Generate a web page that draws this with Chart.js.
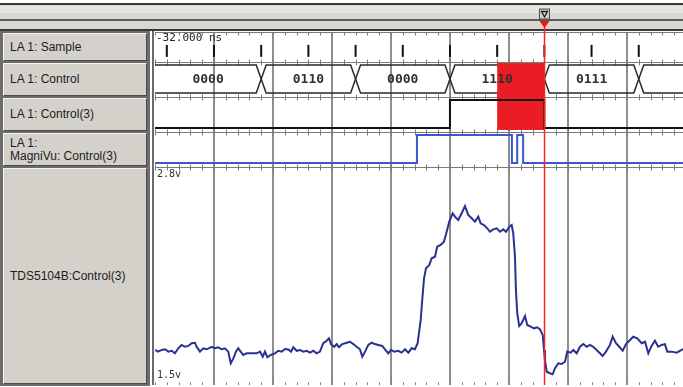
<!DOCTYPE html>
<html>
<head>
<meta charset="utf-8">
<script src="https://cdn.jsdelivr.net/npm/chart.js@4.4.1/dist/chart.umd.min.js"></script>
<style>
  html, body { margin: 0; padding: 0; background: #fff; }
  #wrap { position: relative; width: 683px; height: 387px; overflow: hidden; }
  #chart { position: absolute; left: 0; top: 0; }
  #panel { position: absolute; left: 0; top: 31px; width: 150px; height: 355px; background: #6c6c6c; }
  .cell {
    position: absolute; left: 3px; width: 144px; box-sizing: border-box;
    background: #d4d1cb; border: 1px solid; border-color: #f4f4f4 #4a4a4a #4a4a4a #f4f4f4;
    font: 12px "Liberation Sans", Arial, sans-serif; color: #1c1c1c;
    display: flex; align-items: center; padding-left: 6px; line-height: 13px; white-space: pre-line;
  }
</style>
</head>
<body>
<div id="wrap">
  <canvas id="chart" width="683" height="387"></canvas>
  <div id="panel"></div>
</div>
<script>
// ----------- data ------------
const trackNames = ["LA 1: Sample", "LA 1: Control", "LA 1: Control(3)", "LA 1:\nMagniVu: Control(3)", "TDS5104B:Control(3)"];
const timeMin = -32, timeMax = 12.75;              // ns
const gridTimes = [-27, -22, -17, -12, -7, -2, 3, 8];
const sampleTimes = [-31, -27, -23, -19, -15, -11, -7, -3, 1, 5, 9];
const busEdges = [-23, -15, -7, 1, 9];
const busValues = ["0000", "0110", "0000", "1110", "0111"];
const bitTimes = [-32, -7, 1];
const bitLevels = [0, 1, 0];
const magniTimes = [-32, -9.8, -1.75, -1.3, -0.8];
const magniLevels = [0, 1, 0, 1, 0];
const markStart = -3, markEnd = 1;                 // highlighted sample
const cursorTime = 1;
const voltMin = 1.5, voltMax = 2.8;

const scopeTimes = [
  -32.00, -31.75, -31.43, -31.15, -30.87, -30.58, -30.31, -30.03, -29.74, -29.46,
  -29.18, -28.89, -28.61, -28.47, -28.19, -27.91, -27.62, -27.19, -26.92, -26.64,
  -26.35, -26.07, -25.79, -25.58, -25.36, -25.14, -24.94, -24.74, -24.52, -24.23,
  -23.81, -23.38, -23.10, -22.87, -22.68, -22.48, -22.19, -21.83, -21.55, -21.26,
  -20.98, -20.70, -20.47, -20.28, -19.99, -19.71, -19.43, -19.14, -18.86, -18.58,
  -18.30, -18.02, -17.74, -17.45, -17.25, -17.08, -16.81, -16.60, -16.41, -16.13,
  -15.75, -15.47, -15.19, -14.91, -14.63, -14.43, -14.20, -13.92, -13.64, -13.36,
  -13.08, -12.74, -12.51, -12.23, -12.00, -11.72, -11.38, -11.09, -10.81, -10.53,
  -10.25, -9.97, -9.74, -9.48, -9.35, -9.20, -9.03, -8.75, -8.55, -8.27,
  -8.08, -7.79, -7.51, -7.28, -7.06, -6.77, -6.58, -6.30, -6.01, -5.73,
  -5.45, -5.16, -4.88, -4.60, -4.40, -4.12, -3.84, -3.61, -3.33, -3.04,
  -2.76, -2.48, -2.25, -1.97, -1.77, -1.64, -1.49, -1.41, -1.30, -1.13,
  -0.92, -0.64, -0.45, -0.16, 0.12, 0.40, 0.63, 0.86, 0.97, 1.05,
  1.20, 1.47, 1.70, 1.90, 2.18, 2.47, 2.75, 2.94, 3.23, 3.45,
  3.74, 4.02, 4.30, 4.59, 4.86, 5.14, 5.43, 5.71, 5.94, 6.22,
  6.56, 6.79, 7.07, 7.35, 7.64, 7.92, 8.20, 8.53, 8.87, 9.25,
  9.53, 9.81, 10.09, 10.37, 10.65, 10.94, 11.22, 11.42, 11.79, 12.21,
  12.64, 12.75
];
const scopeVolts = [
  1.709, 1.699, 1.709, 1.713, 1.699, 1.704, 1.689, 1.719, 1.739, 1.728,
  1.733, 1.749, 1.752, 1.728, 1.699, 1.719, 1.713, 1.728, 1.719, 1.725,
  1.713, 1.719, 1.699, 1.629, 1.659, 1.699, 1.719, 1.699, 1.679, 1.689,
  1.689, 1.689, 1.699, 1.669, 1.699, 1.665, 1.679, 1.689, 1.704, 1.699,
  1.715, 1.712, 1.699, 1.725, 1.704, 1.709, 1.699, 1.704, 1.693, 1.704,
  1.689, 1.699, 1.749, 1.764, 1.778, 1.744, 1.728, 1.744, 1.725, 1.744,
  1.752, 1.758, 1.744, 1.728, 1.713, 1.669, 1.699, 1.739, 1.752, 1.744,
  1.739, 1.733, 1.713, 1.689, 1.709, 1.699, 1.704, 1.693, 1.713, 1.693,
  1.719, 1.713, 1.749, 1.888, 2.007, 2.136, 2.196, 2.216, 2.256, 2.265,
  2.325, 2.335, 2.355, 2.414, 2.474, 2.524, 2.504, 2.484, 2.524, 2.567,
  2.514, 2.494, 2.474, 2.504, 2.464, 2.454, 2.434, 2.414, 2.428, 2.434,
  2.414, 2.428, 2.414, 2.444, 2.454, 2.405, 2.265, 2.067, 1.928, 1.852,
  1.868, 1.911, 1.858, 1.848, 1.838, 1.844, 1.832, 1.798, 1.709, 1.649,
  1.579, 1.570, 1.564, 1.600, 1.629, 1.625, 1.639, 1.699, 1.693, 1.709,
  1.689, 1.728, 1.744, 1.728, 1.739, 1.728, 1.709, 1.689, 1.673, 1.699,
  1.739, 1.788, 1.749, 1.728, 1.704, 1.744, 1.764, 1.788, 1.778, 1.749,
  1.758, 1.689, 1.733, 1.764, 1.728, 1.739, 1.744, 1.699, 1.699, 1.693,
  1.709, 1.715
];

// ----------- helpers ------------
const rowAxes = ["ySample", "yBus", "yBit", "yMagni", "yScope"];
const busSlope = 0.42;

function steps(times, levels) {
  const pts = times.map((t, i) => ({ x: t, y: levels[i] }));
  pts.push({ x: timeMax, y: levels[levels.length - 1] });
  return pts;
}

function busRail(level) {
  const pts = [{ x: timeMin, y: level }];
  busEdges.forEach(e => {
    pts.push({ x: e - busSlope, y: level });
    level = 1 - level;
    pts.push({ x: e + busSlope, y: level });
  });
  pts.push({ x: timeMax, y: level });
  return pts;
}

// digital rows: level 0 sits 4px over the row bottom, level 1 near the top
const digital = { min: -0.143, max: 1.107 };

function rowAxis(weight, stackWeight, extra) {
  return Object.assign({
    type: "linear", position: "left", stack: "rows", stackWeight: stackWeight,
    weight: weight, display: false
  }, extra);
}

// ----------- plugins ------------
const frame = {
  id: "frame",
  beforeDraw(chart) {
    const ctx = chart.ctx, w = chart.width;
    ctx.save();
    ctx.fillStyle = "#fff";
    ctx.fillRect(0, 0, w, chart.height);
    // ruler bar on top
    ctx.fillStyle = "#d8d7d1";
    ctx.fillRect(0, 4, w, 27);
    ctx.fillStyle = "#e6e5e0";
    ctx.fillRect(0, 6, w, 7);
    ctx.fillStyle = "#3a3a3a";
    ctx.fillRect(0, 3, w, 2);
    ctx.fillRect(0, 29, w, 2);
    ctx.fillStyle = "#5a5a5a";
    ctx.fillRect(0, 19, w, 2);
    // left edge of the plot
    ctx.fillStyle = "#6a6a6a";
    ctx.fillRect(152, 31, 2, chart.chartArea.bottom - 31);
    ctx.restore();
  },
  beforeDatasetsDraw(chart) {
    const { ctx, chartArea: a, scales } = chart;
    const x = scales.x;
    ctx.save();
    ctx.beginPath();
    ctx.rect(a.left, a.top, a.right - a.left, a.bottom - a.top);
    ctx.clip();
    ctx.strokeStyle = "#7a7a7a";
    ctx.lineWidth = 1;
    ctx.beginPath();
    const ys = [a.top].concat(rowAxes.map(id => scales[id].bottom));
    ys.forEach(y => {
      const yy = Math.round(y) + 0.5;
      ctx.moveTo(a.left, yy);
      ctx.lineTo(a.right, yy);
      for (let t = Math.ceil(x.min); t <= x.max; t++) {
        const px = Math.round(x.getPixelForValue(t)) + 0.5;
        ctx.moveTo(px, yy - 3);
        ctx.lineTo(px, yy + 3);
      }
    });
    ctx.stroke();
    ctx.restore();
  },
  afterDatasetDraw(chart, args) {
    if (chart.data.datasets[args.index].label !== "bus low") return;
    const { ctx, scales } = chart;
    const x0 = scales.x.getPixelForValue(markStart);
    const x1 = scales.x.getPixelForValue(markEnd);
    const y0 = scales.yBus.getPixelForValue(1.07);
    const y1 = scales.yBit.getPixelForValue(-0.07);
    ctx.save();
    ctx.fillStyle = "#ec1c24";
    ctx.fillRect(x0, y0, x1 - x0, y1 - y0);
    ctx.restore();
  },
  afterDatasetsDraw(chart) {
    const { ctx, chartArea: a, scales } = chart;
    const x = scales.x;
    ctx.save();
    // bus values
    ctx.font = "bold 13px 'DejaVu Sans Mono', monospace";
    ctx.fillStyle = "#303030";
    ctx.textAlign = "center";
    ctx.textBaseline = "middle";
    const yMid = scales.yBus.getPixelForValue(0.5);
    busValues.forEach((v, i) => {
      const s = i === 0 ? x.min : busEdges[i - 1];
      const e = i < busEdges.length ? busEdges[i] : x.max;
      ctx.fillText(v, x.getPixelForValue((s + e) / 2), yMid + 1);
    });
    // time and volt labels
    ctx.textAlign = "left";
    ctx.textBaseline = "top";
    ctx.fillStyle = "#222";
    ctx.font = "11px 'DejaVu Sans Mono', monospace";
    ctx.fillText(timeMin.toFixed(3) + " ns", a.left + 1, a.top + 1);
    ctx.font = "10px 'DejaVu Sans Mono', monospace";
    ctx.fillStyle = "#333";
    ctx.fillText(voltMax.toFixed(1) + "v", a.left + 2, scales.yScope.top + 2);
    ctx.textBaseline = "bottom";
    ctx.fillText(voltMin.toFixed(1) + "v", a.left + 2, scales.yScope.bottom - 5);
    // cursor
    const cx = Math.round(x.getPixelForValue(cursorTime)) + 0.5;
    ctx.strokeStyle = "#ff2020";
    ctx.lineWidth = 1.5;
    ctx.beginPath();
    ctx.moveTo(cx, 27);
    ctx.lineTo(cx, a.bottom);
    ctx.stroke();
    ctx.fillStyle = "#f01414";
    ctx.beginPath();
    ctx.moveTo(cx - 5, 21);
    ctx.lineTo(cx + 5, 21);
    ctx.lineTo(cx, 28);
    ctx.closePath();
    ctx.fill();
    ctx.fillStyle = "#cfcfcf";
    ctx.strokeStyle = "#505050";
    ctx.lineWidth = 1;
    ctx.fillRect(cx - 5, 9, 10, 10);
    ctx.strokeRect(cx - 5, 9, 10, 10);
    ctx.strokeStyle = "#1e1e1e";
    ctx.lineWidth = 1.3;
    ctx.beginPath();
    ctx.moveTo(cx - 3, 11.5);
    ctx.lineTo(cx + 3, 11.5);
    ctx.lineTo(cx, 17);
    ctx.closePath();
    ctx.stroke();
    ctx.restore();
  }
};

// ----------- chart ------------
const ctx = document.getElementById("chart").getContext("2d");
const chart = new Chart(ctx, {
  type: "line",
  data: {
    datasets: [
      {
        label: "bus high", yAxisID: "yBus", order: 6,
        data: busRail(1), borderColor: "#2a2a2a", borderWidth: 1.5, pointRadius: 0
      },
      {
        label: "bus low", yAxisID: "yBus", order: 5,
        data: busRail(0), borderColor: "#2a2a2a", borderWidth: 1.5, pointRadius: 0
      },
      {
        label: "Control(3)", yAxisID: "yBit", order: 4, stepped: true,
        data: steps(bitTimes, bitLevels), borderColor: "#111", borderWidth: 2, pointRadius: 0
      },
      {
        label: "MagniVu", yAxisID: "yMagni", order: 3, stepped: true,
        data: steps(magniTimes, magniLevels), borderColor: "#3a56d4", borderWidth: 2, pointRadius: 0
      },
      {
        label: "Sample", yAxisID: "ySample", order: 2, showLine: false,
        data: sampleTimes.map(t => ({ x: t, y: 0.37 })),
        pointStyle: "line", pointRotation: 90, pointRadius: 6,
        pointBorderWidth: 2, pointBorderColor: "#111"
      },
      {
        label: "TDS5104B", yAxisID: "yScope", order: 1,
        data: scopeTimes.map((t, i) => ({ x: t, y: scopeVolts[i] })),
        borderColor: "#2b3190", borderWidth: 2, pointRadius: 0
      }
    ]
  },
  options: {
    responsive: false,
    animation: false,
    events: [],
    layout: { autoPadding: false, padding: { left: 155, top: 32, right: 0, bottom: 2 } },
    plugins: { legend: { display: false }, tooltip: { enabled: false } },
    scales: {
      x: {
        type: "linear", min: timeMin, max: timeMax,
        afterBuildTicks: axis => { axis.ticks = gridTimes.map(v => ({ value: v })); },
        ticks: { display: false },
        grid: { color: "#8e8e8e", lineWidth: 2, drawTicks: false },
        border: { display: false }
      },
      ySample: rowAxis(5, 30, { min: 0, max: 1 }),
      yBus: rowAxis(4, 35, digital),
      yBit: rowAxis(3, 35, digital),
      yMagni: rowAxis(2, 35, digital),
      yScope: rowAxis(1, 218, { min: voltMin, max: voltMax })
    }
  },
  plugins: [frame]
});

// name panel, one cell per row
const panel = document.getElementById("panel");
rowAxes.forEach((id, i) => {
  const s = chart.scales[id];
  const cell = document.createElement("div");
  cell.className = "cell";
  cell.style.top = (s.top - 31 + 1) + "px";
  cell.style.height = (s.bottom - s.top - 2) + "px";
  cell.textContent = trackNames[i];
  panel.appendChild(cell);
});
</script>
</body>
</html>
